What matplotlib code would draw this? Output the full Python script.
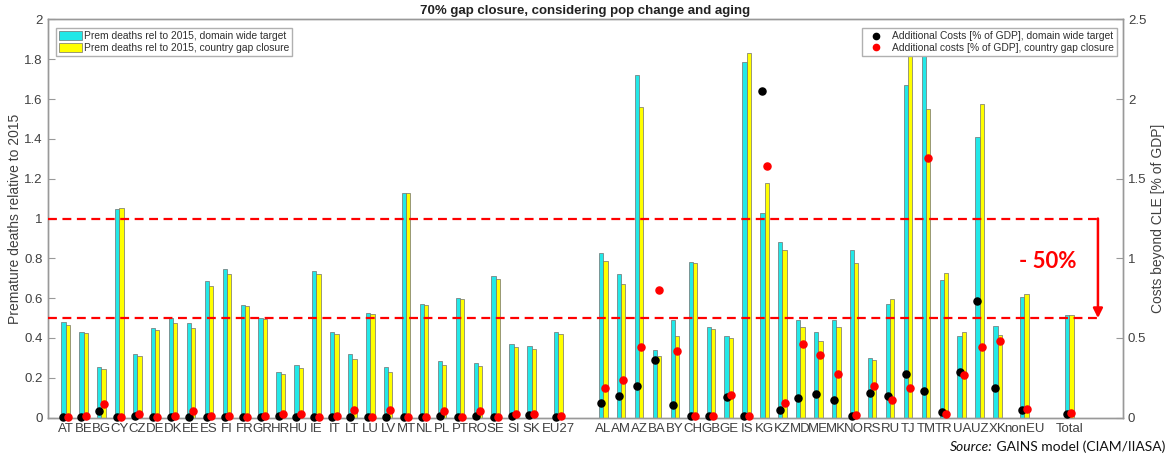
import matplotlib
matplotlib.use("Agg")
import matplotlib.pyplot as plt
from matplotlib.patches import Patch
from matplotlib.lines import Line2D
import numpy as np

plt.rcParams['font.family'] = ['Liberation Sans', 'DejaVu Sans']

# categories and x slots (MATLAB-style positions with gaps)
eu_countries = ['AT', 'BE', 'BG', 'CY', 'CZ', 'DE', 'DK', 'EE', 'ES', 'FI', 'FR', 'GR', 'HR', 'HU',
                'IE', 'IT', 'LT', 'LU', 'LV', 'MT', 'NL', 'PL', 'PT', 'RO', 'SE', 'SI', 'SK']
non_eu = ['AL', 'AM', 'AZ', 'BA', 'BY', 'CH', 'GB', 'GE', 'IS', 'KG', 'KZ', 'MD', 'ME', 'MK',
          'NO', 'RS', 'RU', 'TJ', 'TM', 'TR', 'UA', 'UZ', 'XK']
labels = eu_countries + ['EU27'] + non_eu + ['nonEU', 'Total']
positions = list(range(1, 28)) + [28.5] + list(range(31, 54)) + [54.5, 57]

# premature deaths relative to 2015
deaths_domain = [0.478, 0.428, 0.254, 1.048, 0.322, 0.449, 0.500, 0.473, 0.687, 0.745, 0.566, 0.498,
                 0.229, 0.264, 0.737, 0.428, 0.319, 0.526, 0.256, 1.128, 0.573, 0.286, 0.603, 0.276,
                 0.713, 0.371, 0.361,
                 0.431,
                 0.828, 0.722, 1.719, 0.341, 0.490, 0.784, 0.454, 0.408, 1.786, 1.028, 0.884, 0.490,
                 0.428, 0.491, 0.842, 0.301, 0.570, 1.672, 1.900, 0.692, 0.411, 1.408, 0.458,
                 0.608, 0.516]
deaths_country = [0.466, 0.423, 0.242, 1.054, 0.309, 0.441, 0.474, 0.449, 0.663, 0.723, 0.563, 0.496,
                  0.219, 0.251, 0.723, 0.421, 0.292, 0.520, 0.231, 1.128, 0.566, 0.264, 0.596, 0.261,
                  0.695, 0.356, 0.346,
                  0.421,
                  0.787, 0.672, 1.562, 0.309, 0.410, 0.779, 0.443, 0.400, 1.833, 1.178, 0.844, 0.453,
                  0.386, 0.453, 0.775, 0.291, 0.596, 1.950, 1.552, 0.725, 0.428, 1.577, 0.416,
                  0.622, 0.516]

# additional costs [% of GDP]
cost_domain = [0.005, 0.006, 0.040, 0.004, 0.012, 0.004, 0.003, 0.003, 0.005, 0.003, 0.005, 0.006,
               0.012, 0.006, 0.003, 0.006, 0.003, 0.005, 0.003, 0.004, 0.004, 0.012, 0.006, 0.012,
               0.003, 0.010, 0.015,
               0.005,
               0.092, 0.138, 0.196, 0.359, 0.077, 0.008, 0.008, 0.132, 0.008, 2.051, 0.050, 0.125,
               0.150, 0.109, 0.008, 0.152, 0.134, 0.276, 0.169, 0.033, 0.288, 0.733, 0.186,
               0.050, 0.023]
cost_country = [0.006, 0.008, 0.088, 0.005, 0.022, 0.005, 0.010, 0.044, 0.012, 0.010, 0.005, 0.010,
                0.025, 0.020, 0.004, 0.008, 0.050, 0.005, 0.050, 0.004, 0.004, 0.040, 0.006, 0.044,
                0.005, 0.025, 0.020,
                0.008,
                0.186, 0.238, 0.443, 0.800, 0.418, 0.008, 0.008, 0.142, 0.008, 1.581, 0.092, 0.462,
                0.395, 0.272, 0.015, 0.200, 0.111, 0.186, 1.633, 0.021, 0.269, 0.443, 0.478,
                0.056, 0.029]

x = np.array(positions, dtype=float)
w = 0.24
off = 0.12
gray = '#999999'
txt = '#404040'

fig = plt.figure(figsize=(11.68, 4.63), dpi=100)
ax = fig.add_axes([0.0408, 0.098, 0.9207, 0.860])
ax2 = ax.twinx()

ax.bar(x - off, deaths_domain, width=w, color='#22E8E8', edgecolor='#707070', linewidth=0.5,
       zorder=2)
ax.bar(x + off, deaths_country, width=w, color='#FFFF00', edgecolor='#707070', linewidth=0.5,
       zorder=2)

ax2.scatter(x - off, cost_domain, s=26, color='black', zorder=3, clip_on=False)
ax2.scatter(x + off, cost_country, s=26, color='#FF0000', zorder=4, clip_on=False)

ax.set_xlim(0, 60)
ax.set_ylim(0, 2)
ax2.set_ylim(0, 2.5)
ax.set_xticks(x)
ax.set_xticklabels(labels, fontsize=9.5, color=txt)
ax.tick_params(axis='x', length=0, pad=4)
ax.set_yticks(np.arange(0, 2.01, 0.2))
ax.set_yticklabels(['0', '0.2', '0.4', '0.6', '0.8', '1', '1.2', '1.4', '1.6', '1.8', '2'])
ax.tick_params(axis='y', direction='in', length=5, color=gray, labelsize=9.5, labelcolor=txt)
ax2.set_yticks([0, 0.5, 1, 1.5, 2, 2.5])
ax2.set_yticklabels(['0', '0.5', '1', '1.5', '2', '2.5'])
ax2.tick_params(axis='y', direction='in', length=5, color=gray, labelsize=9.5, labelcolor=txt)
for a in (ax, ax2):
    for s in a.spines.values():
        s.set_color(gray)
        s.set_linewidth(1.0)

ax.set_ylabel('Premature deaths relative to 2015', fontsize=10, color=txt, labelpad=2)
ax2.set_ylabel('Costs beyond CLE [% of GDP]', fontsize=10, color=txt, labelpad=3)
ax.set_title('70% gap closure, considering pop change and aging', fontsize=9.5,
             fontweight='bold', color='#222222', pad=4)

# target lines and arrow
ax2.plot([0, 58.7], [1.25, 1.25], ls=(0, (4, 2.5)), color='#FF0000', lw=1.6, zorder=5)
ax2.plot([0, 58.7], [0.625, 0.625], ls=(0, (4, 2.5)), color='#FF0000', lw=1.6, zorder=5)
ax2.annotate('', xy=(58.6, 0.625), xytext=(58.6, 1.25),
             arrowprops=dict(arrowstyle='-|>', color='#FF0000', lw=1.8, mutation_scale=14,
                             shrinkA=0, shrinkB=0))
ax2.text(55.8, 0.98, '- 50%', color='#FF0000', fontsize=16, fontweight='bold',
         family=['Lato', 'DejaVu Sans'], ha='center', va='center')

leg1 = ax2.legend(handles=[Patch(facecolor='#22E8E8', edgecolor='#707070', lw=0.5),
                           Patch(facecolor='#FFFF00', edgecolor='#707070', lw=0.5)],
                  labels=['Prem deaths rel to 2015, domain wide target',
                          'Prem deaths rel to 2015, country gap closure'],
                  loc='upper left', bbox_to_anchor=(0.008, 0.978), fontsize=7.4, fancybox=False,
                  edgecolor='#b0b0b0', framealpha=1, handlelength=2.2, handleheight=1.0,
                  handletextpad=0.2, borderpad=0.3, labelspacing=0.15, borderaxespad=0)
for t in leg1.get_texts():
    t.set_color('#303030')
ax2.add_artist(leg1)
leg2 = ax2.legend(handles=[Line2D([], [], marker='o', ls='', color='black', markersize=4.5),
                           Line2D([], [], marker='o', ls='', color='#FF0000', markersize=4.5)],
                  labels=['Additional Costs [% of GDP], domain wide target',
                          'Additional costs [% of GDP], country gap closure'],
                  loc='upper right', bbox_to_anchor=(0.9945, 0.978), fontsize=7.4, fancybox=False,
                  edgecolor='#b0b0b0', framealpha=1, handlelength=2.0, handletextpad=0.6,
                  borderpad=0.3, labelspacing=0.15, borderaxespad=0)
for t in leg2.get_texts():
    t.set_color('#303030')

src = fig.text(0.9975, 0.022, ' GAINS model (CIAM/IIASA)', ha='right', va='bottom', fontsize=10,
               family=['Lato', 'DejaVu Sans'], color='#111111')
fig.canvas.draw()
bb = src.get_window_extent(fig.canvas.get_renderer())
fig.text(bb.x0 / fig.bbox.width, 0.022, 'Source:', ha='right', va='bottom', fontsize=10,
         style='italic', family=['Lato', 'DejaVu Sans'], color='#111111')

fig.savefig('out.png', dpi=100)
